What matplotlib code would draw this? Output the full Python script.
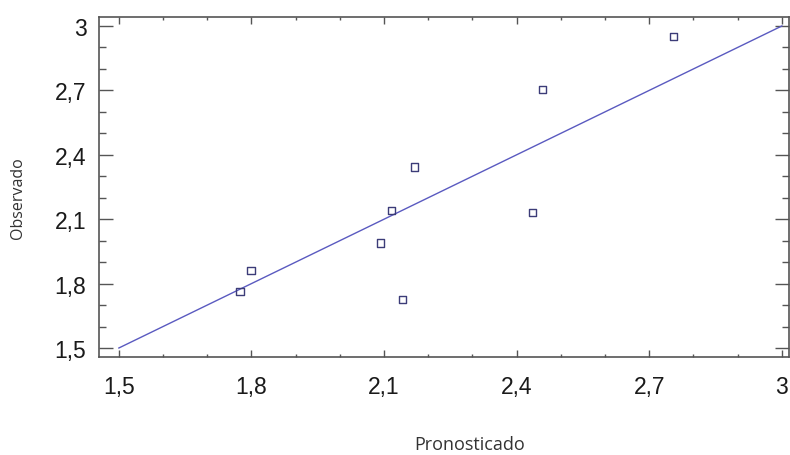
import matplotlib.pyplot as plt
from matplotlib.ticker import MultipleLocator, FuncFormatter

# predicted vs observed values
pronosticado = [1.774, 1.799, 2.092, 2.117, 2.142, 2.168, 2.435, 2.459, 2.754]
observado = [1.764, 1.859, 1.989, 2.140, 1.727, 2.343, 2.130, 2.702, 2.952]

# reference line y = x
linea_x = [1.5, 3.0]
linea_y = [1.5, 3.0]

x_ticks = [1.5, 1.8, 2.1, 2.4, 2.7, 3.0]
y_ticks = [1.5, 1.8, 2.1, 2.4, 2.7, 3.0]


def coma(v, pos=None):
    s = f"{v:.1f}".replace(".", ",")
    if s.endswith(",0"):
        s = s[:-2]
    return s


fig = plt.figure(figsize=(7.9, 4.56), dpi=100)
ax = fig.add_axes([0.1253, 0.2149, 0.8734, 0.7467])

ax.plot(linea_x, linea_y, color="#5a5ac0", linewidth=1.0, zorder=2)
ax.scatter(pronosticado, observado, marker="s", s=26, facecolors="none",
           edgecolors="#3c3c78", linewidths=1.0, zorder=3)

ax.set_xlim(1.455, 3.016)
ax.set_ylim(1.458, 3.044)

ax.set_xticks(x_ticks)
ax.set_yticks(y_ticks)
ax.xaxis.set_minor_locator(MultipleLocator(0.1))
ax.yaxis.set_minor_locator(MultipleLocator(0.1))
ax.xaxis.set_major_formatter(FuncFormatter(coma))
ax.yaxis.set_major_formatter(FuncFormatter(coma))

for s in ax.spines.values():
    s.set_color("#555555")
    s.set_linewidth(1.2)

ax.tick_params(axis="both", which="both", direction="in", top=True, right=True,
               color="#555555", width=1.0, labelcolor="#1a1a1a",
               labelfontfamily="Liberation Sans", labelsize=16.5)
ax.tick_params(axis="x", which="major", length=5, pad=13)
ax.tick_params(axis="x", which="minor", length=2.5)
ax.tick_params(axis="y", which="major", length=10, pad=9)
ax.tick_params(axis="y", which="minor", length=5)

fig.text(0.595, 0.005, "Pronosticado", ha="center", va="bottom",
         fontsize=13, family="Open Sans", color="#333333")
fig.text(0.023, 0.566, "Observado", ha="center", va="center", rotation=90,
         fontsize=11.5, family="Open Sans", color="#333333")

fig.savefig("out.png", dpi=100, facecolor="white")
